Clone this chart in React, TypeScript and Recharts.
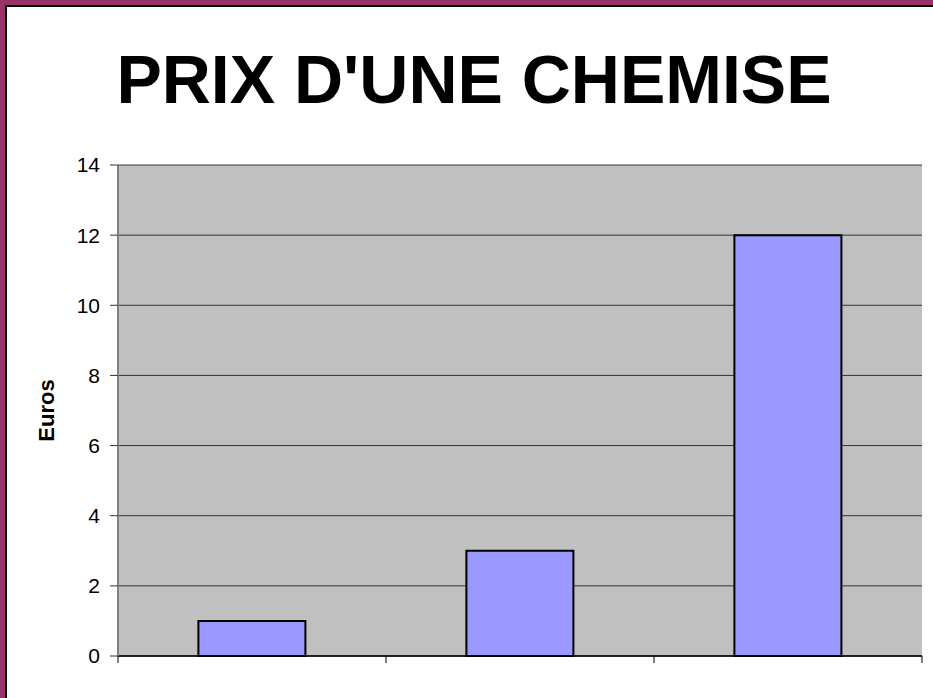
import React from "react"
import { BarChart, Bar, XAxis, YAxis, CartesianGrid, Label } from "recharts"

// valeurs
const categories = ["A", "B", "C"]
const prix = [1, 3, 12]
const yTicks = [0, 2, 4, 6, 8, 10, 12, 14]

const data = categories.map((name, i) => ({ name, prix: prix[i] }))

const FONT = "'Liberation Sans', Arial, sans-serif"

// trait de graduation placé entre les catégories, comme dans Excel
function EdgeTick(props: any) {
  const { x, y, payload, index, visibleTicksCount } = props
  const half = payload.offset || 0
  const last = index === visibleTicksCount - 1
  return (
    <g>
      <line x1={x - half} x2={x - half} y1={y} y2={y + 7} stroke="#000" />
      {last && <line x1={x + half} x2={x + half} y1={y} y2={y + 7} stroke="#000" />}
    </g>
  )
}

export default function App() {
  return (
    <div
      style={{
        position: "absolute",
        left: 0,
        top: 0,
        width: 933,
        height: 698,
        background: "#993366",
        fontFamily: FONT,
        overflow: "hidden",
      }}
    >
      <div
        style={{
          position: "absolute",
          left: 5,
          top: 5,
          right: -10,
          bottom: -10,
          background: "#000",
        }}
      />
      <div
        style={{
          position: "absolute",
          left: 7,
          top: 7,
          right: -10,
          bottom: -10,
          background: "#fff",
        }}
      />
      <div
        style={{
          position: "absolute",
          left: 0,
          width: 948,
          top: 45,
          textAlign: "center",
          fontSize: 68,
          lineHeight: "68px",
          fontWeight: "bold",
          color: "#000",
          whiteSpace: "nowrap",
        }}
      >
        PRIX D'UNE CHEMISE
      </div>
      <div style={{ position: "absolute", left: 0, top: 0 }}>
        <BarChart
          width={933}
          height={698}
          data={data}
          margin={{ top: 165, right: 11, bottom: 0, left: 0 }}
          barCategoryGap="30%"
        >
          <CartesianGrid
            xAxisId="cat"
            yAxisId="left"
            vertical={false}
            stroke="#333"
            strokeWidth={1}
            fill="#C0C0C0"
            fillOpacity={1}
          />
          <XAxis
            xAxisId="top"
            orientation="top"
            dataKey="name"
            height={0}
            tick={false}
            tickLine={false}
            axisLine={{ stroke: "#808080", strokeWidth: 2 }}
          />
          <XAxis
            xAxisId="cat"
            dataKey="name"
            height={42}
            interval={0}
            tickSize={0}
            tickMargin={0}
            tickLine={false}
            tick={<EdgeTick />}
            axisLine={{ stroke: "#000", strokeWidth: 1.5 }}
          />
          <YAxis
            yAxisId="left"
            domain={[0, 14]}
            ticks={yTicks}
            width={118}
            tickSize={8}
            tickMargin={10}
            tick={{ fill: "#000", fontSize: 21, fontFamily: FONT }}
            axisLine={{ stroke: "#808080", strokeWidth: 2 }}
            tickLine={{ stroke: "#333" }}
          >
            <Label
              value="Euros"
              angle={-90}
              position="insideLeft"
              offset={46}
              style={{
                textAnchor: "middle",
                fontWeight: "bold",
                fontSize: 22,
                fontFamily: FONT,
                fill: "#000",
              }}
            />
          </YAxis>
          <YAxis
            yAxisId="right"
            orientation="right"
            domain={[0, 14]}
            width={0}
            tick={false}
            tickLine={false}
            axisLine={{ stroke: "#808080", strokeWidth: 2 }}
          />
          <Bar
            xAxisId="cat"
            yAxisId="left"
            dataKey="prix"
            fill="#9999FF"
            stroke="#000"
            strokeWidth={2}
            isAnimationActive={false}
          />
        </BarChart>
      </div>
    </div>
  )
}
